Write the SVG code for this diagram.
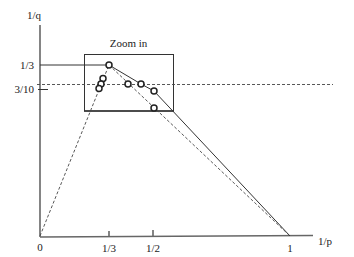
<svg xmlns="http://www.w3.org/2000/svg" width="354" height="257" viewBox="0 0 354 257">
<style>
text{font-family:"Liberation Serif","Times New Roman",serif;font-size:11px;fill:#222}
.axis{stroke:#666;stroke-width:1.6;fill:none}
.solid{stroke:#333;stroke-width:1;fill:none}
.dash{stroke:#444;stroke-width:0.9;stroke-dasharray:3,2;fill:none}
.pt{fill:#fff;stroke:#222;stroke-width:1.5}
</style>
<rect width="354" height="257" fill="#fff"/>
<g id="axes">
<line class="axis" x1="40" y1="25" x2="40" y2="237"/>
<line class="axis" x1="40" y1="237" x2="313" y2="235.5"/>
<line class="axis" x1="109" y1="231" x2="109" y2="236"/>
<line class="axis" x1="153" y1="230" x2="153" y2="236"/>
<line class="solid" x1="38" y1="89.5" x2="48" y2="89.5"/>
<text x="34" y="19" text-anchor="middle">1/q</text>
<text x="325" y="245" text-anchor="middle">1/p</text>
<text x="40" y="251" text-anchor="middle">0</text>
<text x="109" y="252" text-anchor="middle">1/3</text>
<text x="153" y="252" text-anchor="middle">1/2</text>
<text x="290" y="252" text-anchor="middle">1</text>
<text x="34" y="69" text-anchor="end">1/3</text>
<text x="34" y="93" text-anchor="end">3/10</text>
</g>
<g id="zoom">
<rect x="84.5" y="54.5" width="89" height="56.5" fill="none" stroke="#333" stroke-width="1"/>
<line x1="84" y1="111" x2="174" y2="111" stroke="#333" stroke-width="1.5"/>
<text x="128.5" y="47" text-anchor="middle">Zoom in</text>
</g>
<g id="connectors">
<line class="solid" x1="40" y1="65" x2="109" y2="65"/>
<line class="dash" x1="37" y1="84.5" x2="333" y2="84.5"/>
<polyline class="solid" points="109,65 141,84 154,91 290,236"/>
<line class="dash" x1="109" y1="65" x2="290" y2="236"/>
<line class="dash" x1="40" y1="236" x2="109" y2="65"/>
</g>
<g id="points">
<circle class="pt" cx="109" cy="65" r="3"/>
<circle class="pt" cx="103" cy="78.5" r="3"/>
<circle class="pt" cx="101" cy="84" r="3"/>
<circle class="pt" cx="99" cy="88.5" r="3"/>
<circle class="pt" cx="128" cy="84" r="3"/>
<circle class="pt" cx="141" cy="84" r="3"/>
<circle class="pt" cx="154" cy="91" r="3"/>
<circle class="pt" cx="154" cy="108" r="3"/>
</g>
</svg>
